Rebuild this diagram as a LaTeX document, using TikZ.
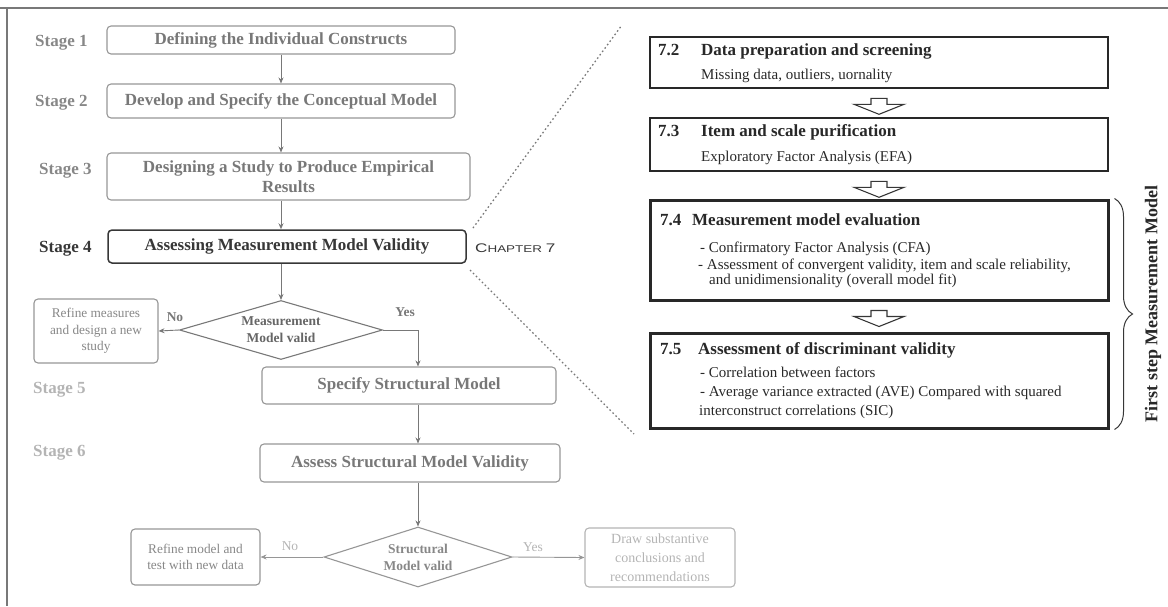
\documentclass[tikz,border=0pt]{standalone}
\usepackage{fontspec}
\setmainfont{Liberation Serif}
\newfontfamily\chapfont[FakeStretch=1.37]{Liberation Sans}
\usepackage{tikz}
\usetikzlibrary{shapes.geometric, arrows.meta, positioning, calc,
                decorations.pathreplacing}
\definecolor{framegray}{RGB}{120, 120, 120}
\definecolor{labelgray}{RGB}{135, 135, 135}
\definecolor{boxgray}{RGB}{150, 150, 150}
\definecolor{textgray}{RGB}{120, 120, 120}
\definecolor{darkgray}{RGB}{55, 55, 55}
\definecolor{palegray}{RGB}{180, 180, 180}
\definecolor{panelblack}{RGB}{40, 40, 40}

\begin{document}
\begin{tikzpicture}[x=1pt, y=-1pt,
    stagelabel/.style={anchor=west, inner sep=0pt, font=\fontsize{17}{20}\selectfont\bfseries},
    stagebox/.style={draw=boxgray, rounded corners=4pt, line width=1.1pt, inner sep=0pt,
                     text=textgray, align=center, font=\fontsize{17}{20}\selectfont\bfseries},
    sidebox/.style={draw=boxgray, rounded corners=4pt, line width=1.1pt, inner sep=0pt,
                    text=labelgray, align=center, font=\fontsize{13.3}{16.5}\selectfont},
    decision/.style={diamond, draw=framegray, line width=1.1pt, inner sep=0pt, aspect=3.2,
                     align=center, font=\fontsize{13.5}{17}\selectfont\bfseries},
    answer/.style={inner sep=0pt, font=\fontsize{13.5}{16}\selectfont\bfseries},
    flow/.style={draw=framegray, line width=0.9pt, -{Stealth[length=6pt,width=5pt]}},
    zoomline/.style={draw=framegray, line width=1.3pt, dash pattern=on 1.6pt off 2.6pt},
    panelbox/.style={draw=panelblack, line width=2.6pt, inner sep=0pt},
    paneltitle/.style={anchor=west, inner sep=0pt, text height=0.7em, text depth=0.2em,
                       text=panelblack, font=\fontsize{17}{20}\selectfont\bfseries},
    paneltext/.style={anchor=west, inner sep=0pt, text height=0.7em, text depth=0.2em,
                      text=panelblack, font=\fontsize{15}{18}\selectfont},
    hollowarrow/.style={draw=darkgray, line width=1.1pt, fill=white, line join=miter}]

\useasboundingbox (0,0) rectangle (1168,606);

% Page frame
\draw[framegray, line width=1.5pt] (0,8) -- (1168,8);
\draw[framegray, line width=1.5pt] (7,8) -- (7,606);

% Stage labels
\node[stagelabel, text=labelgray] (st1) at (35,43) {Stage 1};
\node[stagelabel, text=labelgray] (st2) at (35,103) {Stage 2};
\node[stagelabel, text=labelgray] (st3) at (39,171) {Stage 3};
\node[stagelabel, text=darkgray] (st4) at (39,249) {Stage 4};
\node[stagelabel, text=palegray] (st5) at (33,390) {Stage 5};
\node[stagelabel, text=palegray] (st6) at (33,453) {Stage 6};

% Stage boxes
\node[stagebox, minimum width=348, minimum height=28] (def) at (281,40)
    {Defining the Individual Constructs};
\node[stagebox, minimum width=348, minimum height=34] (dev) at (281,101)
    {Develop and Specify the Conceptual Model};
\node[stagebox, minimum width=363, minimum height=47] (des) at (288.5,176.5)
    {Designing a Study to Produce Empirical\\Results};
\node[stagebox, draw=darkgray, text=darkgray, line width=1.5pt,
      minimum width=358, minimum height=33] (ass) at (287,246.5)
    {Assessing Measurement Model Validity};
\node[anchor=west, inner sep=0pt, text=darkgray] (chap) at (475,248)
    {\chapfont\fontsize{12.5}{12.5}\selectfont C\fontsize{9.8}{9.8}\selectfont HAPTER
     \fontsize{12.5}{12.5}\selectfont 7};

\draw[flow] (def.south) -- (dev.north);
\draw[flow] (dev.south) -- (dev.south |- des.north);
\draw[flow] (dev.south |- des.south) -- (dev.south |- ass.north);

% Measurement check
\node[decision, text=textgray!85!black, minimum width=203, minimum height=59] (md) at (281,330)
    {Measurement\\Model valid};
\node[sidebox, minimum width=124, minimum height=64] (rm) at (96,331)
    {Refine measures\\and design a new\\study};
\draw[flow] (dev.south |- ass.south) -- (md.north);
\draw[flow] (md.west) -- (rm.east);
\node[answer, text=textgray] (no1) at (175,317) {No};
\node[answer, text=textgray] (yes1) at (405,312) {Yes};

\coordinate (yesturn) at (418,330);
\node[stagebox, minimum width=294, minimum height=37] (spec) at (409,385.5)
    {Specify Structural Model};
\node[stagebox, minimum width=300, minimum height=38] (asv) at (410,463)
    {Assess Structural Model Validity};
\draw[flow] (md.east) -- (yesturn) -- (yesturn |- spec.north);
\draw[flow] (yesturn |- spec.south) -- (yesturn |- asv.north);

% Structural check
\node[decision, draw=boxgray, text=labelgray, minimum width=188, minimum height=60] (sd) at (418,557)
    {Structural\\Model valid};
\node[sidebox, minimum width=129, minimum height=56] (rmod) at (195.5,557)
    {Refine model and\\test with new data};
\node[sidebox, draw=palegray, text=palegray, minimum width=150, minimum height=59,
      font=\fontsize{14}{19}\selectfont] (drw) at (660,557.5)
    {Draw substantive\\conclusions and\\recommendations};
\draw[flow] (yesturn |- asv.south) -- (sd.north);
\draw[flow, draw=boxgray] (sd.west) -- (rmod.east);
\draw[flow, draw=boxgray] (sd.east) -- (drw.west);
\node[answer, text=palegray, font=\fontsize{13.5}{16}\selectfont] (no2) at (290,546) {No};
\node[answer, text=palegray, font=\fontsize{13.5}{16}\selectfont] (yes2) at (533,547) {Yes};

% Zoom lines to the chapter panel
\coordinate (zu1) at (473,228);
\coordinate (zu2) at (622,25);
\coordinate (zl1) at (470,270);
\coordinate (zl2) at (634,434);
\draw[zoomline] (zu1) -- (zu2);
\draw[zoomline] (zl1) -- (zl2);

% Chapter 7 panel
\node[panelbox, minimum width=458, minimum height=51] (b72) at (879,62.5) {};
\node[panelbox, minimum width=458, minimum height=53] (b73) at (879,144.5) {};
\node[panelbox, line width=3pt, minimum width=458, minimum height=100] (b74) at (879,250) {};
\node[panelbox, line width=3pt, minimum width=458, minimum height=95] (b75) at (879,380.5) {};

\node[paneltitle] (t72) at (658,53) {\makebox[43pt][l]{7.2}Data preparation and screening};
\node[paneltext] (d72) at (701,77) {Missing data, outliers, uornality};

\node[paneltitle] (t73) at (658,134) {\makebox[43pt][l]{7.3}Item and scale purification};
\node[paneltext] (d73) at (701,159) {Exploratory Factor Analysis (EFA)};

\node[paneltitle] (t74) at (660,223) {\makebox[32pt][l]{7.4}Measurement model evaluation};
\node[paneltext] (d74a) at (700,250) {- Confirmatory Factor Analysis (CFA)};
\node[paneltext] (d74b) at (698,267) {- Assessment of convergent validity, item and scale reliability,};
\node[paneltext] (d74c) at (709,282) {and unidimensionality (overall model fit)};

\node[paneltitle] (t75) at (660,352) {\makebox[38pt][l]{7.5}Assessment of discriminant validity};
\node[paneltext] (d75a) at (700,375) {- Correlation between factors};
\node[paneltext] (d75b) at (700,394) {- Average variance extracted (AVE) Compared with squared};
\node[paneltext] (d75c) at (699,413) {interconstruct correlations (SIC)};

\foreach \a in {b72, b73, b74}
  \draw[hollowarrow] ($(\a.south)+(-8,9)$) -- ++(16,0) -- ++(0,6) -- ++(17,0)
      -- ++(-25,10) -- ++(-25,-10) -- ++(17,0) -- cycle;

% Brace over 7.4 and 7.5
\draw[darkgray, line width=1pt, decorate, decoration={brace, amplitude=18pt}]
    ($(b74.north east)+(5,0)$) -- ($(b75.south east)+(5,0)$);
\node[rotate=90, inner sep=0pt, text=panelblack, font=\fontsize{18}{20}\selectfont\bfseries]
    (step1) at (1153,304) {First step Measurement Model};

\end{tikzpicture}
\end{document}
